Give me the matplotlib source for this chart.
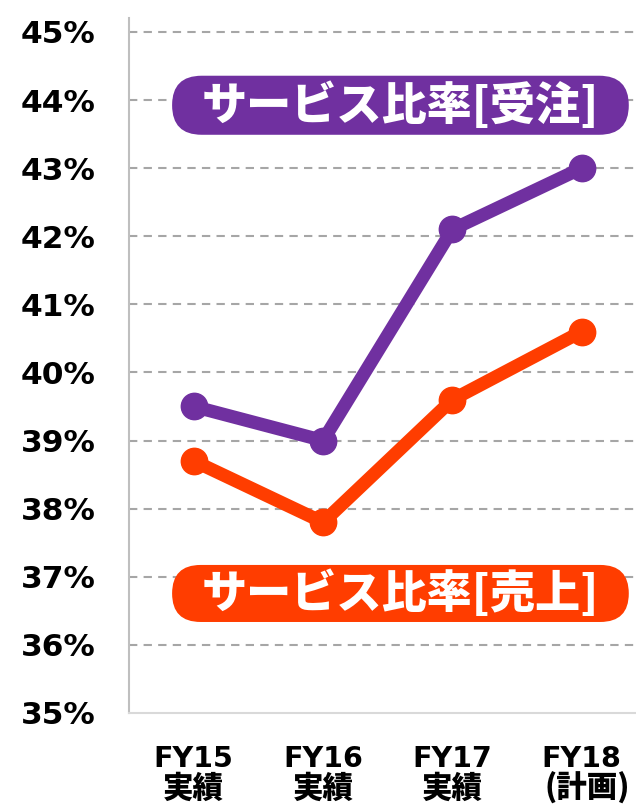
import matplotlib
matplotlib.use("Agg")
import matplotlib.pyplot as plt
from matplotlib.patches import FancyBboxPatch

# data
years = ["FY15", "FY16", "FY17", "FY18"]
year_notes = ["実績", "実績", "実績", "(計画)"]
order_ratio = [39.5, 39.0, 42.1, 43.0]   # サービス比率[受注]
sales_ratio = [38.7, 37.8, 39.6, 40.6]   # サービス比率[売上]
yticks = [35, 36, 37, 38, 39, 40, 41, 42, 43, 44, 45]

purple = "#7030A0"
orange = "#FF3D00"
fonts = ["DejaVu Sans", "Noto Sans CJK JP"]

fig = plt.figure(figsize=(6.36, 8.05), dpi=100)
ax = fig.add_axes([0.203, 0.1143, 0.797, 0.863])

x = list(range(len(years)))
ax.plot(x, order_ratio, color=purple, lw=9.5, marker="o", ms=19, solid_capstyle="round", zorder=3)
ax.plot(x, sales_ratio, color=orange, lw=9.5, marker="o", ms=19, solid_capstyle="round", zorder=3)

ax.set_xlim(-0.5, 3.42)
ax.set_ylim(35, 45.2)
ax.set_yticks(yticks)
ax.set_yticklabels([f"{v}%" for v in yticks], fontsize=22.5, fontweight="bold", family=fonts)
ax.set_xticks(x)
ax.set_xticklabels(years, fontsize=20.5, fontweight="bold", family=fonts)
ax.tick_params(axis="both", length=0)
ax.tick_params(axis="y", pad=24)
ax.tick_params(axis="x", pad=23)
for i, note in enumerate(year_notes):
    ax.text(i + (0.04 if i == 3 else 0), -0.108, note, transform=ax.get_xaxis_transform(),
            ha="center", va="center", fontsize=22, fontweight="heavy", family=["Noto Sans CJK JP"])

for v in yticks[1:]:
    ax.axhline(v, color="#A6A6A6", lw=1.5, ls=(0, (4, 3)), zorder=1)

for s in ["top", "right"]:
    ax.spines[s].set_visible(False)
ax.spines["left"].set_color("#BFBFBF")
ax.spines["left"].set_linewidth(1.5)
ax.spines["bottom"].set_color("#D9D9D9")
ax.spines["bottom"].set_linewidth(1.5)

# pill labels (axes coordinates)
asp = 507 / 694.5
for label, col, yb, h in [("サービス比率[受注]", purple, 0.8323, 0.0850),
                          ("サービス比率[売上]", orange, 0.1310, 0.0821)]:
    r = h / asp / 2
    ax.add_patch(FancyBboxPatch((0.0848, yb), 0.901, h,
                                boxstyle=f"round,pad=0,rounding_size={r}",
                                mutation_aspect=asp, transform=ax.transAxes,
                                fc=col, ec="none", zorder=5, clip_on=False))
    ax.text(0.5345, yb + h / 2, label, transform=ax.transAxes, color="white", fontsize=32.5,
            fontweight="heavy", family=["Noto Sans CJK JP"], ha="center", va="center", zorder=6)

fig.savefig("out.png", dpi=100)
